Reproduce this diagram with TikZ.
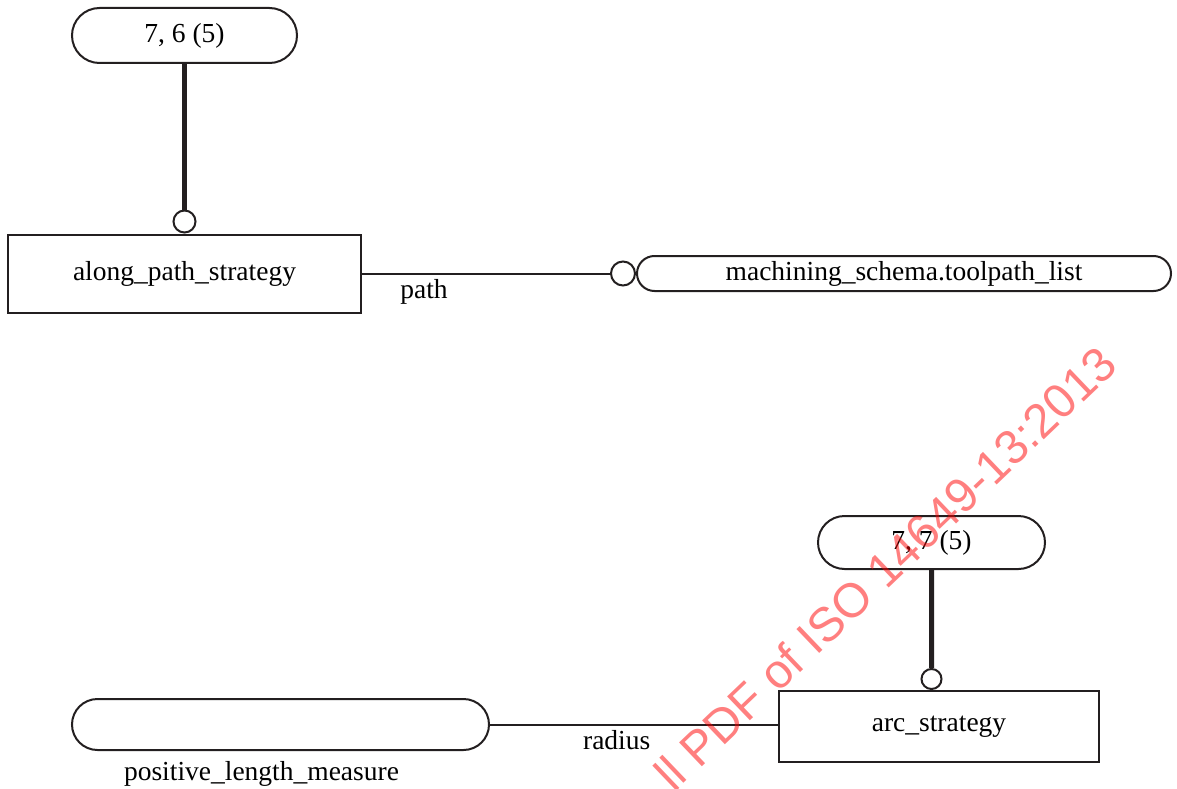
\documentclass[tikz,border=0pt]{standalone}
\usepackage{fontspec}
\setmainfont{Liberation Serif}
\newfontfamily\stampfont{Liberation Sans}
\usepackage{tikz}
\usetikzlibrary{positioning}
\usetikzlibrary{shapes.misc}
\definecolor{ink}{RGB}{35,31,32}

\begin{document}
\begin{tikzpicture}[x=1pt,y=-1pt,line width=2pt,draw=ink,
        font=\fontsize{27.5}{32}\selectfont,
        entity/.style={draw=ink,rectangle,line width=2pt,inner sep=0pt},
        pill/.style={draw=ink,rounded rectangle,line width=2pt,inner sep=0pt},
        ring/.style={draw=ink,circle,fill=white,line width=2pt,minimum size=22pt,inner sep=0pt},
        heavy/.style={line width=5pt},
        role/.style={inner sep=2pt}]

  \useasboundingbox (0,0) rectangle (1177,789);

  \node[pill, minimum width=225pt, minimum height=55pt] (ref76) at (184.5,35.5) {7, 6 (5)};
  \node[entity, minimum width=353pt, minimum height=78pt] (aps) at (184.5,273.5) {along\_path\_strategy};
  \node[ring] (o1) [above=0pt of aps] {};

  \node[pill, minimum width=534pt, minimum height=35pt] (tpl) at (904,273.5) {machining\_schema.toolpath\_list};
  \node[ring, minimum size=24pt] (o2) [left=0pt of tpl] {};

  \node[pill, minimum width=227pt, minimum height=53pt] (ref77) at (931.5,542.5) {7, 7 (5)};
  \node[entity, minimum width=320pt, minimum height=71pt] (arc) at (939,726.5) {arc\_strategy};
  \node[ring, minimum size=20pt, anchor=south] (o3) at (ref77.south |- arc.north) {};

  \node[pill, minimum width=417pt, minimum height=51pt] (plm) at (280.5,724.5) {};
  \node[role] (plmname) [below=7pt of plm, xshift=-19pt] {positive\_length\_measure};

  \path (ref76) edge [heavy] (o1)
        (aps) edge node [role,pos=0.25,below=3pt] {path} (o2)
        (ref77) edge [heavy] (o3)
        (plm.east) edge node [role,pos=0.44,below=3pt] {radius} (plm.east -| arc.west);

  \node[text=red, opacity=0.5, rotate=43.7, font=\stampfont\fontsize{48}{48}\selectfont]
        (stamp) at (885,568) {ll PDF of ISO 14649-13:2013};

\end{tikzpicture}
\end{document}
